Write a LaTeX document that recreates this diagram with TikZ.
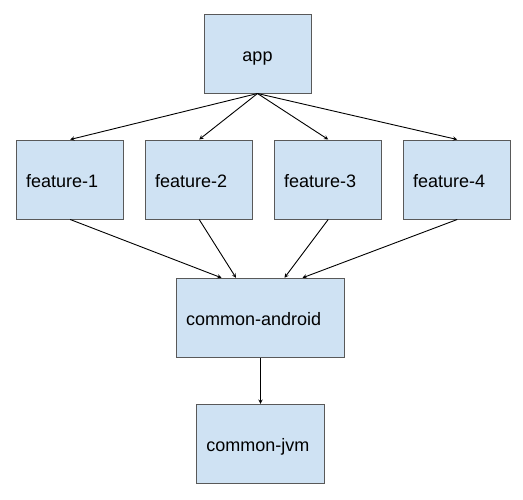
\documentclass[tikz,border=0pt]{standalone}
\usepackage{fontspec}
\setmainfont{Liberation Sans}
\definecolor{boxfill}{HTML}{CFE2F3}
\definecolor{boxline}{HTML}{595959}

\begin{document}
\begin{tikzpicture}[->, >=stealth, x=1pt, y=1pt, node distance=129pt,
    main node/.style={rectangle, draw=boxline, fill=boxfill, line width=1pt,
        minimum height=79pt, inner xsep=9.5pt, inner ysep=0pt, align=left,
        text height=16pt, text depth=0pt,
        font=\fontsize{18}{22}\selectfont},
    feature node/.style={main node, text width=88pt}]

    \useasboundingbox (0,0) rectangle (523,-499);

    \node[main node, align=center, text width=88pt] (app) at (257.5,-53.5) {app};
    \node[feature node] (F1) at (70.2,-179.5) {feature-1};
    \node[feature node] (F2) [right of=F1] {feature-2};
    \node[feature node] (F3) [right of=F2] {feature-3};
    \node[feature node] (F4) [right of=F3] {feature-4};
    \node[main node, text width=148.6pt] (CA) at (260.5,-317.8) {common-android};
    \node[main node, text width=108.3pt] (CJ) [below of=CA, node distance=126pt] {common-jvm};

    % app depends on every feature
    \path[every edge/.style={draw, line width=0.9pt}]
        (app.south) edge (F1.north)
        (app.south) edge (F2.north)
        (app.south) edge (F3.north)
        (app.south) edge (F4.north);

    % features depend on common-android
    \path[every edge/.style={draw, line width=0.9pt}]
        (F1.south) edge ([xshift=-39pt]CA.north)
        (F2.south) edge ([xshift=-24.5pt]CA.north)
        (F3.south) edge ([xshift=24pt]CA.north)
        (F4.south) edge ([xshift=42pt]CA.north);

    % common-android depends on common-jvm
    \draw[line width=0.9pt] (CA) -- (CJ);

\end{tikzpicture}
\end{document}
